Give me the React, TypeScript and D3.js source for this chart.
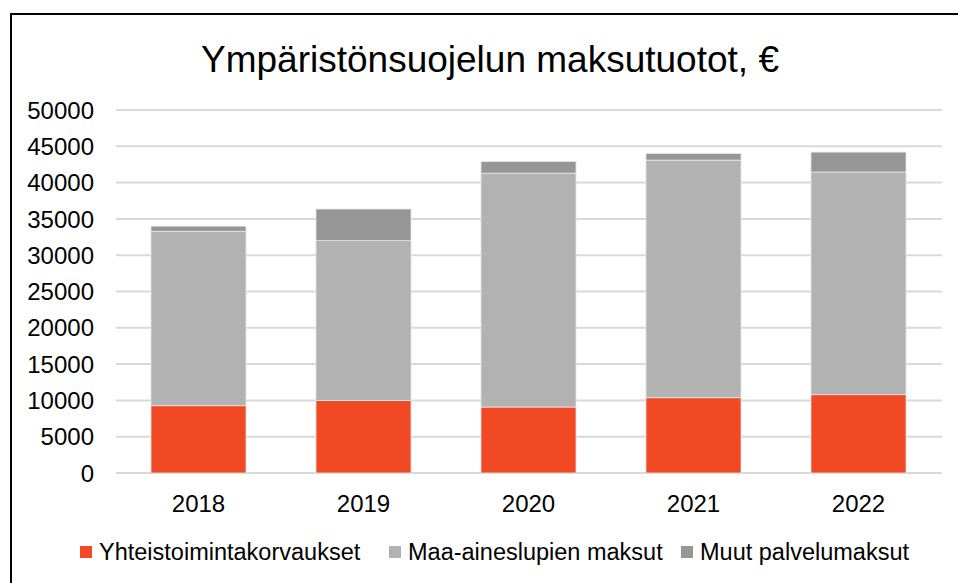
import React from 'react';
import * as d3 from 'd3';

const years = ['2018', '2019', '2020', '2021', '2022'];
const seriesNames = ['Yhteistoimintakorvaukset', 'Maa-aineslupien maksut', 'Muut palvelumaksut'];
const yhteis = [9270, 10000, 9090, 10370, 10790];
const maa = [24030, 22000, 32210, 32730, 30670];
const muut = [700, 4360, 1600, 900, 2740];
const yTicks = [0, 5000, 10000, 15000, 20000, 25000, 30000, 35000, 40000, 45000, 50000];
const colors = ['#f04923', '#b2b2b2', '#969696'];

const W = 958, H = 583;
const font = '"Liberation Sans", Arial, sans-serif';

export default function App() {
  const x = d3.scaleBand().domain(years).range([116, 941]).paddingInner(0.424).paddingOuter(0.212);
  const y = d3.scaleLinear().domain([0, 50000]).range([473, 110]);

  const rows = years.map((yr, i) => ({ year: yr, s0: yhteis[i], s1: maa[i], s2: muut[i] }));
  const stack = d3.stack().keys(['s0', 's1', 's2'])(rows as any);

  // legend layout (x of each square)
  const legendX = [80, 389, 681];

  return (
    <svg width={W} height={H} style={{ position: 'absolute', left: 0, top: 0, background: '#fff' }}
      fontFamily={font}>
      <rect x={0} y={0} width={W} height={H} fill="#fff" />
      {/* chart frame */}
      <path d={`M11,${H + 5} V14 H${W + 5}`} fill="none" stroke="#000" strokeWidth={2} />

      <text x={490} y={72} textAnchor="middle" fontSize={37} fill="#000">
        Ympäristönsuojelun maksutuotot, €
      </text>

      {/* grid */}
      {yTicks.map(t => (
        <line key={t} x1={116} x2={942} y1={y(t)} y2={y(t)} stroke="#d9d9d9" strokeWidth={2} />
      ))}
      {yTicks.map(t => (
        <text key={'l' + t} x={94} y={y(t)} dy="0.36em" textAnchor="end" fontSize={24} fill="#000">{t}</text>
      ))}

      {/* bars */}
      {stack.map((s, si) => (
        <g key={si} fill={colors[si]}>
          {s.map((d, i) => (
            <rect key={i} x={x(years[i])} width={x.bandwidth()} y={y(d[1])} height={y(d[0]) - y(d[1])}
              stroke="#e6e6e6" strokeWidth={0.8} />
          ))}
        </g>
      ))}

      {years.map(yr => (
        <text key={yr} x={(x(yr) as number) + x.bandwidth() / 2} y={503} dy="0.36em" textAnchor="middle"
          fontSize={24} fill="#000">{yr}</text>
      ))}

      {/* legend */}
      {seriesNames.map((n, i) => (
        <g key={n}>
          <rect x={legendX[i]} y={546} width={12} height={12} fill={colors[i]} />
          <text x={legendX[i] + 19} y={552} dy="0.36em" fontSize={23.5} fill="#000">{n}</text>
        </g>
      ))}
    </svg>
  );
}
